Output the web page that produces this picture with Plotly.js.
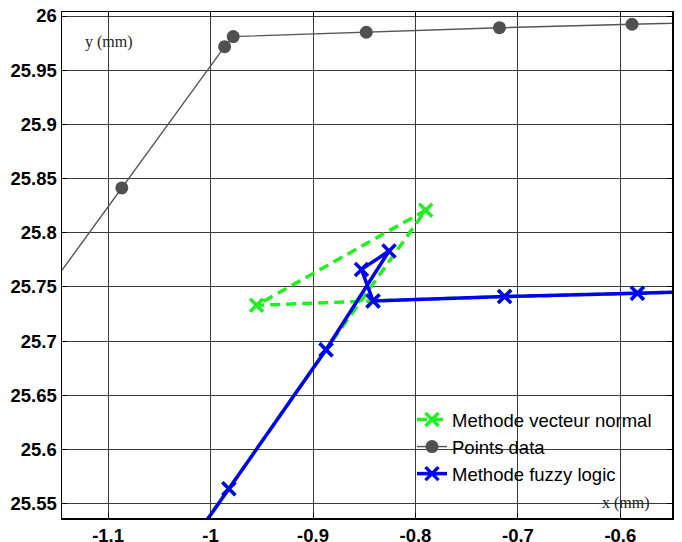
<!DOCTYPE html>
<html>
<head>
<meta charset="utf-8">
<script src="https://cdn.plot.ly/plotly-3.0.1.min.js"></script>
<style>html,body{margin:0;padding:0;background:#fff;}#chart{width:682px;height:542px;}</style>
</head>
<body>
<div id="chart"></div>
<script>
// ---- data ----
const xTickVals = [-1.1, -1, -0.9, -0.8, -0.7, -0.6];
const xTickText = ['-1.1', '-1', '-0.9', '-0.8', '-0.7', '-0.6'];
const yTickVals = [25.55, 25.6, 25.65, 25.7, 25.75, 25.8, 25.85, 25.9, 25.95, 26];
const yTickText = ['25.55', '25.6', '25.65', '25.7', '25.75', '25.8', '25.85', '25.9', '25.95', '26'];

const pointsX = [-1.20, -1.0866, -0.9863, -0.9779, -0.848, -0.718, -0.5886, -0.46];
const pointsY = [25.694, 25.8414, 25.9717, 25.981, 25.985, 25.9892, 25.9924, 25.9956];

const normalX = [-1.06, -0.9821, -0.8873, -0.790, -0.9551, -0.8414, -0.713, -0.5834, -0.45];
const normalY = [25.4585, 25.5638, 25.692, 25.8208, 25.7331, 25.7371, 25.7411, 25.7442, 25.7474];

const fuzzyX = [-1.06, -0.9821, -0.8873, -0.8258, -0.8527, -0.8414, -0.713, -0.5834, -0.45];
const fuzzyY = [25.4585, 25.5638, 25.692, 25.7831, 25.7662, 25.7371, 25.7411, 25.7442, 25.7474];

const names = ['Methode vecteur normal', 'Points data', 'Methode fuzzy logic'];

const green = '#1ff01f', blue = '#0000f0', gray = '#555555';

const traces = [
  {x: normalX, y: normalY, name: names[0], type: 'scatter', mode: 'lines+markers',
   line: {color: green, width: 3.5, dash: '10px,6px'},
   marker: {symbol: 'x-thin', size: 13, color: green, line: {color: green, width: 3.5}}},
  {x: pointsX, y: pointsY, name: names[1], type: 'scatter', mode: 'lines+markers',
   line: {color: gray, width: 1.4},
   marker: {symbol: 'circle', size: 13, color: '#505050'}},
  {x: fuzzyX, y: fuzzyY, name: names[2], type: 'scatter', mode: 'lines+markers',
   line: {color: blue, width: 3.5},
   marker: {symbol: 'x-thin', size: 13, color: blue, line: {color: blue, width: 3.5}}}
];

const axisCommon = {
  showgrid: true, gridcolor: '#3a3a3a', gridwidth: 1,
  zeroline: false, showline: true, linecolor: '#000', linewidth: 1.5,
  mirror: 'ticks', ticks: 'inside', ticklen: 5, tickcolor: '#000', tickwidth: 1,
  tickmode: 'array',
  tickfont: {family: 'Liberation Sans, Arial, sans-serif', size: 18.5, color: '#000', weight: 'bold'}
};

const layout = {
  width: 682, height: 542,
  margin: {l: 62, r: 10, t: 12, b: 24, pad: 0},
  paper_bgcolor: '#fff', plot_bgcolor: '#fff',
  showlegend: true,
  xaxis: Object.assign({}, axisCommon, {range: [-1.145, -0.5496], tickvals: xTickVals, ticktext: xTickText}),
  yaxis: Object.assign({}, axisCommon, {range: [25.5368, 26.0037], tickvals: yTickVals, ticktext: yTickText}),
  legend: {x: (412 - 62) / 610, xanchor: 'left', y: (518 - 401) / 506, yanchor: 'top',
    bgcolor: 'rgba(0,0,0,0)', borderwidth: 0,
    font: {family: 'Liberation Sans, Arial, sans-serif', size: 18.5, color: '#000'}},
  shapes: [{type: 'rect', xref: 'paper', yref: 'paper', layer: 'between',
    x0: (403 - 62) / 610, x1: (666 - 62) / 610, y0: (518 - 513) / 506, y1: (518 - 397) / 506,
    fillcolor: '#fff', line: {width: 0}}],
  annotations: [
    {text: 'y (mm)', xref: 'paper', yref: 'paper', x: (109 - 62) / 610, y: (518 - 42) / 506,
     xanchor: 'center', yanchor: 'middle',
     showarrow: false, font: {family: 'Liberation Serif, Times New Roman, serif', size: 16, color: '#222'}},
    {text: 'x (mm)', xref: 'paper', yref: 'paper', x: (626 - 62) / 610, y: (518 - 503) / 506,
     xanchor: 'center', yanchor: 'middle',
     showarrow: false, font: {family: 'Liberation Serif, Times New Roman, serif', size: 16, color: '#222'}}
  ]
};

Plotly.newPlot('chart', traces, layout, {displayModeBar: false, staticPlot: true});
</script>
</body>
</html>
